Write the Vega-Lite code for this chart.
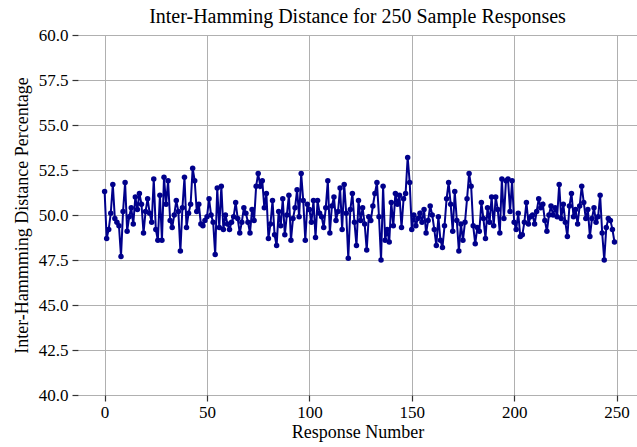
{
  "$schema": "https://vega.github.io/schema/vega-lite/v6.json",
  "width": 559,
  "height": 360,
  "autosize": {"type": "none"},
  "padding": {"left": 78, "top": 35, "right": 0, "bottom": 52},
  "background": "white",
  "title": {
    "text": "Inter-Hamming Distance for 250 Sample Responses",
    "font": "Liberation Serif",
    "fontSize": 20,
    "fontWeight": "normal",
    "color": "black",
    "anchor": "middle",
    "offset": -1
  },
  "config": {
    "font": "Liberation Serif",
    "view": {"stroke": null},
    "style": {
      "guide-label": {"font": "Liberation Serif", "fontSize": 17, "fill": "black"},
      "guide-title": {"font": "Liberation Serif", "fontSize": 18, "fill": "black"}
    },
    "axis": {
      "labelFont": "Liberation Serif",
      "labelFontSize": 17,
      "labelColor": "black",
      "titleFont": "Liberation Serif",
      "titleFontSize": 18,
      "titleFontWeight": "normal",
      "titleColor": "black",
      "gridColor": "#b0b0b0",
      "gridWidth": 1,
      "domain": false,
      "tickColor": "#333333",
      "tickSize": 6,
      "tickWidth": 1.2
    }
  },
  "data": {
    "values": [
      {"n":0,"v":51.3},{"n":1,"v":48.7},{"n":2,"v":49.2},{"n":3,"v":50.1},{"n":4,"v":51.7},{"n":5,"v":49.8},{"n":6,"v":49.6},{"n":7,"v":49.4},{"n":8,"v":47.7},{"n":9,"v":50.2},
      {"n":10,"v":51.8},{"n":11,"v":49.1},{"n":12,"v":49.9},{"n":13,"v":50.4},{"n":14,"v":49.5},{"n":15,"v":51.0},{"n":16,"v":50.3},{"n":17,"v":51.2},{"n":18,"v":50.6},{"n":19,"v":49.0},
      {"n":20,"v":50.2},{"n":21,"v":50.9},{"n":22,"v":50.1},{"n":23,"v":49.6},{"n":24,"v":52.0},{"n":25,"v":49.2},{"n":26,"v":48.6},{"n":27,"v":51.1},{"n":28,"v":48.6},{"n":29,"v":52.1},
      {"n":30,"v":50.6},{"n":31,"v":51.9},{"n":32,"v":49.7},{"n":33,"v":49.3},{"n":34,"v":50.0},{"n":35,"v":50.8},{"n":36,"v":50.2},{"n":37,"v":48.0},{"n":38,"v":50.4},{"n":39,"v":52.1},
      {"n":40,"v":49.3},{"n":41,"v":50.1},{"n":42,"v":50.6},{"n":43,"v":52.6},{"n":44,"v":51.9},{"n":45,"v":50.2},{"n":46,"v":50.6},{"n":47,"v":49.5},{"n":48,"v":49.4},{"n":49,"v":49.7},
      {"n":50,"v":49.9},{"n":51,"v":50.9},{"n":52,"v":50.0},{"n":53,"v":49.6},{"n":54,"v":47.8},{"n":55,"v":51.5},{"n":56,"v":49.3},{"n":57,"v":51.6},{"n":58,"v":49.2},{"n":59,"v":50.0},
      {"n":60,"v":49.5},{"n":61,"v":49.2},{"n":62,"v":49.6},{"n":63,"v":49.9},{"n":64,"v":50.7},{"n":65,"v":49.8},{"n":66,"v":49.0},{"n":67,"v":49.6},{"n":68,"v":50.4},{"n":69,"v":50.1},
      {"n":70,"v":49.6},{"n":71,"v":49.0},{"n":72,"v":50.3},{"n":73,"v":49.7},{"n":74,"v":51.6},{"n":75,"v":52.3},{"n":76,"v":51.6},{"n":77,"v":51.9},{"n":78,"v":50.4},{"n":79,"v":51.2},
      {"n":80,"v":48.7},{"n":81,"v":49.5},{"n":82,"v":50.8},{"n":83,"v":48.9},{"n":84,"v":48.3},{"n":85,"v":50.2},{"n":86,"v":49.4},{"n":87,"v":50.9},{"n":88,"v":48.9},{"n":89,"v":50.0},
      {"n":90,"v":51.1},{"n":91,"v":48.6},{"n":92,"v":49.8},{"n":93,"v":50.4},{"n":94,"v":51.4},{"n":95,"v":49.9},{"n":96,"v":52.3},{"n":97,"v":50.8},{"n":98,"v":48.6},{"n":99,"v":50.6},
      {"n":100,"v":50.3},{"n":101,"v":49.6},{"n":102,"v":50.8},{"n":103,"v":48.75},{"n":104,"v":50.8},{"n":105,"v":50.1},{"n":106,"v":49.9},{"n":107,"v":49.3},{"n":108,"v":50.4},{"n":109,"v":51.9},
      {"n":110,"v":49.0},{"n":111,"v":50.5},{"n":112,"v":51.0},{"n":113,"v":49.7},{"n":114,"v":50.2},{"n":115,"v":51.5},{"n":116,"v":49.2},{"n":117,"v":51.7},{"n":118,"v":50.1},{"n":119,"v":47.6},
      {"n":120,"v":50.3},{"n":121,"v":51.2},{"n":122,"v":49.6},{"n":123,"v":48.3},{"n":124,"v":50.8},{"n":125,"v":49.7},{"n":126,"v":50.4},{"n":127,"v":49.5},{"n":128,"v":48.05},{"n":129,"v":49.9},
      {"n":130,"v":49.7},{"n":131,"v":50.5},{"n":132,"v":51.2},{"n":133,"v":51.8},{"n":134,"v":49.9},{"n":135,"v":47.5},{"n":136,"v":51.6},{"n":137,"v":48.6},{"n":138,"v":49.2},{"n":139,"v":48.5},
      {"n":140,"v":50.7},{"n":141,"v":49.4},{"n":142,"v":51.2},{"n":143,"v":50.6},{"n":144,"v":51.1},{"n":145,"v":49.3},{"n":146,"v":50.9},{"n":147,"v":51.2},{"n":148,"v":53.2},{"n":149,"v":51.8},
      {"n":150,"v":49.2},{"n":151,"v":50.0},{"n":152,"v":49.4},{"n":153,"v":49.8},{"n":154,"v":50.1},{"n":155,"v":49.6},{"n":156,"v":50.3},{"n":157,"v":49.0},{"n":158,"v":49.7},{"n":159,"v":50.5},
      {"n":160,"v":50.0},{"n":161,"v":49.2},{"n":162,"v":48.3},{"n":163,"v":49.9},{"n":164,"v":48.6},{"n":165,"v":48.2},{"n":166,"v":49.4},{"n":167,"v":50.9},{"n":168,"v":51.8},{"n":169,"v":50.6},
      {"n":170,"v":49.1},{"n":171,"v":51.3},{"n":172,"v":49.7},{"n":173,"v":48.0},{"n":174,"v":49.5},{"n":175,"v":48.6},{"n":176,"v":49.6},{"n":177,"v":50.9},{"n":178,"v":52.3},{"n":179,"v":51.6},
      {"n":180,"v":49.4},{"n":181,"v":48.4},{"n":182,"v":49.3},{"n":183,"v":49.1},{"n":184,"v":50.7},{"n":185,"v":49.8},{"n":186,"v":48.7},{"n":187,"v":50.4},{"n":188,"v":49.6},{"n":189,"v":51.0},
      {"n":190,"v":49.4},{"n":191,"v":51.0},{"n":192,"v":50.3},{"n":193,"v":49.0},{"n":194,"v":52.0},{"n":195,"v":49.8},{"n":196,"v":51.9},{"n":197,"v":52.0},{"n":198,"v":50.2},{"n":199,"v":51.9},
      {"n":200,"v":49.6},{"n":201,"v":49.2},{"n":202,"v":50.1},{"n":203,"v":48.8},{"n":204,"v":48.9},{"n":205,"v":49.6},{"n":206,"v":50.7},{"n":207,"v":49.5},{"n":208,"v":49.9},{"n":209,"v":50.0},
      {"n":210,"v":49.5},{"n":211,"v":50.2},{"n":212,"v":50.9},{"n":213,"v":50.4},{"n":214,"v":50.6},{"n":215,"v":49.7},{"n":216,"v":49.1},{"n":217,"v":50.0},{"n":218,"v":50.5},{"n":219,"v":50.0},
      {"n":220,"v":50.4},{"n":221,"v":49.9},{"n":222,"v":51.7},{"n":223,"v":49.8},{"n":224,"v":50.6},{"n":225,"v":49.6},{"n":226,"v":48.8},{"n":227,"v":50.5},{"n":228,"v":51.2},{"n":229,"v":49.9},
      {"n":230,"v":50.3},{"n":231,"v":49.5},{"n":232,"v":50.5},{"n":233,"v":51.6},{"n":234,"v":50.7},{"n":235,"v":49.8},{"n":236,"v":50.3},{"n":237,"v":48.8},{"n":238,"v":49.8},{"n":239,"v":50.4},
      {"n":240,"v":49.6},{"n":241,"v":49.9},{"n":242,"v":51.1},{"n":243,"v":49.0},{"n":244,"v":47.5},{"n":245,"v":49.3},{"n":246,"v":49.8},{"n":247,"v":49.7},{"n":248,"v":49.2},{"n":249,"v":48.5}
    ]
  },
  "mark": {
    "type": "line",
    "color": "#00008B",
    "strokeWidth": 2,
    "point": {"filled": true, "size": 30, "color": "#00008B"}
  },
  "encoding": {
    "x": {
      "field": "n",
      "type": "quantitative",
      "scale": {"domain": [-13, 260], "nice": false, "zero": false},
      "axis": {
        "values": [0, 50, 100, 150, 200, 250],
        "title": "Response Number",
        "labelFont": "Liberation Serif",
        "labelFontSize": 17,
        "labelPadding": 3,
        "titlePadding": 3
      }
    },
    "y": {
      "field": "v",
      "type": "quantitative",
      "scale": {"domain": [40, 60], "nice": false, "zero": false},
      "axis": {
        "values": [40, 42.5, 45, 47.5, 50, 52.5, 55, 57.5, 60],
        "format": ".1f",
        "title": "Inter-Hammming Distance Percentage",
        "labelFont": "Liberation Serif",
        "labelFontSize": 17,
        "labelPadding": 4,
        "titlePadding": 7
      }
    }
  }
}
